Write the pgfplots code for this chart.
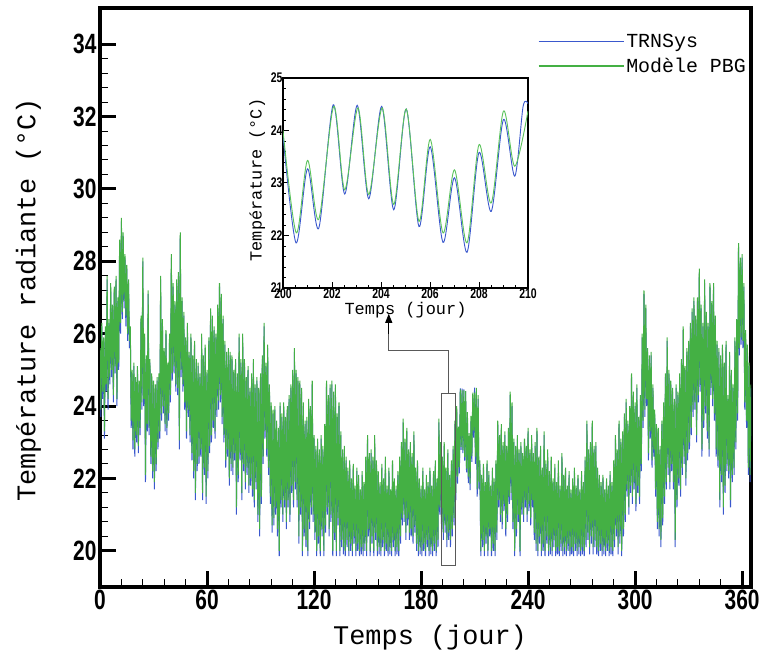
\documentclass[border=0pt]{standalone}
\usepackage{fontspec}
\usepackage{pgfplots}
\usepackage{pgfplotstable}
\pgfplotsset{compat=1.18}
\usetikzlibrary{arrows.meta}
\setmainfont{Liberation Sans}
\newfontfamily\nb[FakeStretch=0.75]{Liberation Sans}
\newfontfamily\mono{Liberation Mono}
\definecolor{trnblue}{RGB}{58,88,205}
\definecolor{pbggreen}{RGB}{68,176,68}
\definecolor{insgreen}{RGB}{90,195,90}

\pgfplotstableread{
t g b
0 25.6 25.5
0.5 23.9 23.7
1 26.3 26.2
1.5 24.4 24.2
2 25.9 25.8
2.5 23.3 23.1
3 26.2 26.1
3.5 24.6 24.4
4 27.6 27.5
4.5 24.2 23.9
5 26.4 26.3
5.5 24.8 24.6
6 27.4 27.3
6.5 25.0 24.8
7 26.8 26.7
7.5 24.3 24.1
8 27.3 27.2
8.5 25.1 24.9
9 27.6 27.5
9.5 24.2 24.0
10 27.0 26.9
10.5 25.2 25.0
11 28.6 28.5
11.5 26.3 26.0
12 29.2 29.1
12.5 26.6 26.4
13 28.8 28.7
13.5 26.9 26.7
14 28.2 28.1
14.5 26.5 26.2
15 27.9 27.8
15.5 26.0 25.8
16 27.5 27.4
16.5 25.8 25.6
17 26.2 26.1
17.5 23.6 23.4
18 25.0 24.9
18.5 23.05 22.8
19 25.2 25.1
19.5 22.8 22.6
20 24.8 24.7
20.5 23.2 23.0
21 25.1 25.0
21.5 22.9 22.7
22 24.7 24.6
22.5 23.4 23.2
23 26.5 26.4
23.5 24.1 23.9
24 28.1 28.0
24.5 24.2 24.0
25 26.0 25.9
25.5 22.1 21.9
26 25.4 25.3
26.5 23.5 23.3
27 27.2 27.1
27.5 23.4 23.2
28 25.3 25.2
28.5 22.6 22.4
29 24.9 24.8
29.5 22.2 22.0
30 24.7 24.6
30.5 21.9 21.7
31 24.6 24.5
31.5 22.4 22.2
32 24.8 24.7
32.5 23.0 22.8
33 24.9 24.8
33.5 23.3 23.1
34 27.6 27.5
34.5 23.8 23.6
35 26.4 26.3
35.5 24.0 23.8
36 25.6 25.5
36.5 23.5 23.3
37 26.1 26.0
37.5 23.4 23.2
38 25.2 25.1
38.5 23.8 23.6
39 26.0 25.9
39.5 24.3 24.1
40 28.2 28.1
40.5 24.9 24.7
41 27.4 27.3
41.5 25.1 24.9
42 26.9 26.8
42.5 24.6 24.4
43 27.5 27.4
43.5 24.5 24.3
44 27.7 27.6
44.5 23.05 22.8
45 28.8 28.7
45.5 25.0 24.8
46 27.0 26.9
46.5 24.6 24.4
47 26.6 26.5
47.5 24.1 23.9
48 25.9 25.8
48.5 23.3 23.1
49 26.3 26.2
49.5 23.9 23.7
50 25.5 25.4
50.5 23.2 23.0
51 26.0 25.9
51.5 22.7 22.5
52 25.4 25.3
52.5 22.2 22.0
53 25.8 25.7
53.5 21.6 21.4
54 25.3 25.2
54.5 22.4 22.2
55 25.2 25.1
55.5 22.6 22.4
56 24.9 24.8
56.5 22.8 22.6
57 26.0 25.9
57.5 21.6 21.4
58 25.4 25.3
58.5 22.3 22.1
59 25.7 25.6
59.5 21.5 21.3
60 25.0 24.9
60.5 22.2 22.0
61 25.9 25.8
61.5 22.9 22.7
62 26.7 26.6
62.5 23.2 23.0
63 26.5 26.4
63.5 23.6 23.4
64 26.2 26.1
64.5 23.3 23.1
65 26.0 25.9
65.5 23.9 23.7
66 26.8 26.7
66.5 24.15 23.9
67 27.4 27.3
67.5 24.3 24.1
68 27.1 27.0
68.5 23.7 23.5
69 26.5 26.4
69.5 23.2 23.0
70 25.8 25.7
70.5 22.5 22.3
71 25.5 25.4
71.5 22.8 22.6
72 25.6 25.5
72.5 22.0 21.8
73 25.5 25.4
73.5 22.4 22.2
74 25.4 25.3
74.5 22.3 22.1
75 25.0 24.9
75.5 22.7 22.5
76 25.3 25.2
76.5 21.2 21.0
77 24.9 24.8
77.5 22.1 21.9
78 26.0 25.9
78.5 22.7 22.5
79 25.3 25.2
79.5 21.6 21.4
80 26.0 25.9
80.5 22.4 22.2
81 25.3 25.2
81.5 21.9 21.7
82 24.8 24.7
82.5 22.3 22.1
83 25.1 25.0
83.5 21.8 21.6
84 24.5 24.4
84.5 22.0 21.8
85 24.9 24.8
85.5 21.7 21.5
86 25.3 25.2
86.5 21.4 21.2
87 24.6 24.5
87.5 21.9 21.7
88 24.8 24.7
88.5 21.0 20.8
89 24.5 24.4
89.5 20.6 20.4
90 24.9 24.8
90.5 21.5 21.3
91 25.4 25.3
91.5 22.6 22.4
92 26.3 26.2
92.5 23.3 23.1
93 25.2 25.1
93.5 22.8 22.6
94 25.7 25.6
94.5 22.3 22.1
95 24.6 24.5
95.5 21.5 21.3
96 24.1 24.0
96.5 20.7 20.5
97 23.9 23.8
97.5 20.9 20.7
98 24.0 23.9
98.5 21.2 21.0
99 23.6 23.5
99.5 20.6 20.4
100 23.4 23.3
100.5 20.0 19.85
101 24.1 24.0
101.5 21.4 21.2
102 23.8 23.7
102.5 21.0 20.8
103 24.1 24.0
103.5 21.4 21.2
104 23.7 23.6
104.5 20.8 20.6
105 24.0 23.9
105.5 21.4 21.2
106 24.3 24.2
106.5 21.0 20.8
107 24.6 24.5
107.5 21.8 21.6
108 25.0 24.9
108.5 21.4 21.2
109 25.6 25.5
109.5 21.9 21.7
110 25.0 24.9
110.5 21.4 21.2
111 24.8 24.7
111.5 20.4 20.2
112 24.7 24.6
112.5 21.2 21.0
113 24.5 24.4
113.5 20.0 19.85
114 24.1 24.0
114.5 20.6 20.4
115 23.6 23.5
115.5 20.3 20.1
116 23.7 23.6
116.5 20.0 19.85
117 24.2 24.1
117.5 20.8 20.6
118 24.0 23.9
118.5 21.2 21.0
119 24.7 24.6
119.5 21.0 20.8
120 23.2 23.1
120.5 20.5 20.3
121 22.9 22.8
121.5 20.0 19.85
122 23.1 23.0
122.5 20.4 20.2
123 22.8 22.7
123.5 20.0 19.85
124 23.2 23.1
124.5 20.6 20.4
125 22.9 22.8
125.5 20.0 19.85
126 23.5 23.4
126.5 20.7 20.5
127 24.7 24.6
127.5 21.2 21.0
128 24.3 24.2
128.5 20.6 20.4
129 24.6 24.5
129.5 21.0 20.8
130 24.7 24.6
130.5 20.0 19.85
131 24.4 24.3
131.5 20.5 20.3
132 24.6 24.5
132.5 20.0 19.85
133 23.8 23.7
133.5 20.9 20.7
134 24.1 24.0
134.5 20.0 19.85
135 23.3 23.2
135.5 20.3 20.1
136 22.8 22.7
136.5 20.1 19.9
137 22.9 22.8
137.5 20.0 19.85
138 22.6 22.5
138.5 20.3 20.1
139 22.3 22.2
139.5 20.0 19.85
140 22.5 22.4
140.5 20.2 20.0
141 22.0 21.9
141.5 20.0 19.85
142 22.4 22.3
142.5 20.4 20.2
143 21.8 21.7
143.5 20.0 19.85
144 22.3 22.2
144.5 20.2 20.0
145 22.1 22.0
145.5 20.0 19.85
146 21.7 21.6
146.5 20.1 19.9
147 22.2 22.1
147.5 20.0 19.85
148 21.9 21.8
148.5 20.2 20.0
149 22.6 22.5
149.5 20.0 19.85
150 23.2 23.1
150.5 20.6 20.4
151 22.7 22.6
151.5 20.0 19.85
152 22.8 22.7
152.5 20.4 20.2
153 22.6 22.5
153.5 20.0 19.85
154 23.2 23.1
154.5 20.5 20.3
155 22.5 22.4
155.5 20.0 19.85
156 22.2 22.1
156.5 20.1 19.9
157 21.9 21.8
157.5 20.0 19.85
158 22.4 22.3
158.5 20.3 20.1
159 22.0 21.9
159.5 20.0 19.85
160 22.6 22.5
160.5 20.2 20.0
161 21.8 21.7
161.5 20.0 19.85
162 22.3 22.2
162.5 20.1 19.9
163 21.7 21.6
163.5 20.0 19.85
164 22.5 22.4
164.5 20.3 20.1
165 22.0 21.9
165.5 20.0 19.85
166 21.8 21.7
166.5 20.1 19.9
167 22.2 22.1
167.5 20.0 19.85
168 22.6 22.5
168.5 20.4 20.2
169 23.0 22.9
169.5 20.9 20.7
170 23.65 23.55
170.5 21.0 20.8
171 23.1 23.0
171.5 20.5 20.3
172 23.4 23.3
172.5 20.9 20.7
173 22.8 22.7
173.5 20.5 20.3
174 23.0 22.9
174.5 20.6 20.4
175 22.7 22.6
175.5 20.4 20.2
176 23.3 23.2
176.5 20.7 20.5
177 22.3 22.2
177.5 20.2 20.0
178 22.5 22.4
178.5 20.0 19.85
179 22.0 21.9
179.5 20.1 19.9
180 21.8 21.7
180.5 20.0 19.85
181 22.3 22.2
181.5 20.2 20.0
182 21.7 21.6
182.5 20.0 19.85
183 22.1 22.0
183.5 20.3 20.1
184 21.9 21.8
184.5 20.0 19.85
185 22.3 22.2
185.5 20.1 19.9
186 21.8 21.7
186.5 20.0 19.85
187 22.2 22.1
187.5 20.2 20.0
188 22.5 22.4
188.5 20.0 19.85
189 22.0 21.9
189.5 20.3 20.1
190 23.65 23.55
190.5 21.2 21.0
191 23.0 22.9
191.5 20.8 20.6
192 22.6 22.5
192.5 20.5 20.3
193 23.0 22.9
193.5 20.7 20.5
194 22.3 22.2
194.5 20.3 20.1
195 22.8 22.7
195.5 20.5 20.3
196 22.1 22.0
196.5 20.3 20.1
197 22.5 22.4
197.5 20.6 20.4
198 22.9 22.8
198.5 20.9 20.7
199 23.6 23.5
199.5 21.6 21.4
200 24.0 23.9
200.5 22.05 21.86
201 23.43 23.27
201.5 22.31 22.14
202 24.46 24.49
202.5 22.87 22.79
203 24.43 24.48
203.5 22.78 22.70
204 24.43 24.46
204.5 22.59 22.49
205 24.41 24.41
205.5 22.27 22.17
206 23.83 23.69
206.5 22.05 21.87
207 23.25 23.10
207.5 21.86 21.68
208 23.73 23.58
208.5 22.62 22.46
209 24.37 24.21
209.5 23.32 23.13
210 24.37 24.51
210.5 22.6 22.4
211 24.5 24.4
211.5 21.7 21.5
212 24.3 24.2
212.5 21.9 21.7
213 22.5 22.4
213.5 20.0 19.85
214 22.1 22.0
214.5 20.3 20.1
215 22.4 22.3
215.5 20.0 19.85
216 21.9 21.8
216.5 20.4 20.2
217 22.5 22.4
217.5 20.0 19.85
218 22.2 22.1
218.5 20.6 20.4
219 21.8 21.7
219.5 20.0 19.85
220 22.3 22.2
220.5 20.2 20.0
221 22.0 21.9
221.5 20.0 19.85
222 22.5 22.4
222.5 20.5 20.3
223 23.6 23.5
223.5 21.4 21.2
224 23.2 23.1
224.5 21.0 20.8
225 23.5 23.4
225.5 20.8 20.6
226 23.0 22.9
226.5 21.3 21.1
227 23.3 23.2
227.5 20.6 20.4
228 22.9 22.8
228.5 21.0 20.8
229 23.4 23.3
229.5 21.5 21.3
230 24.4 24.3
230.5 21.6 21.4
231 24.1 24.0
231.5 20.8 20.6
232 23.1 23.0
232.5 20.0 19.85
233 22.9 22.8
233.5 20.6 20.4
234 23.2 23.1
234.5 21.0 20.8
235 22.8 22.7
235.5 20.0 19.85
236 23.0 22.9
236.5 21.2 21.0
237 22.7 22.6
237.5 21.0 20.8
238 23.1 23.0
238.5 21.4 21.2
239 22.9 22.8
239.5 21.0 20.8
240 23.4 23.3
240.5 21.3 21.1
241 22.8 22.7
241.5 20.9 20.7
242 23.2 23.1
242.5 21.4 21.2
243 22.7 22.6
243.5 20.5 20.3
244 23.0 22.9
244.5 20.2 20.0
245 23.4 23.3
245.5 20.0 19.85
246 22.6 22.5
246.5 20.4 20.2
247 22.9 22.8
247.5 20.0 19.85
248 22.3 22.2
248.5 20.2 20.0
249 23.3 23.2
249.5 20.0 19.85
250 22.5 22.4
250.5 20.4 20.2
251 22.8 22.7
251.5 20.0 19.85
252 22.2 22.1
252.5 20.1 19.9
253 22.6 22.5
253.5 20.0 19.85
254 22.0 21.9
254.5 20.3 20.1
255 22.4 22.3
255.5 20.0 19.85
256 21.9 21.8
256.5 20.1 19.9
257 22.5 22.4
257.5 20.0 19.85
258 21.8 21.7
258.5 20.2 20.0
259 22.7 22.6
259.5 20.0 19.85
260 22.1 22.0
260.5 20.1 19.9
261 22.3 22.2
261.5 20.0 19.85
262 21.8 21.7
262.5 20.2 20.0
263 22.2 22.1
263.5 20.0 19.85
264 21.7 21.6
264.5 20.1 19.9
265 22.0 21.9
265.5 20.0 19.85
266 22.3 22.2
266.5 20.2 20.0
267 21.8 21.7
267.5 20.0 19.85
268 22.1 22.0
268.5 20.1 19.9
269 21.7 21.6
269.5 20.0 19.85
270 22.2 22.1
270.5 20.1 19.9
271 21.9 21.8
271.5 20.0 19.85
272 22.6 22.5
272.5 20.3 20.1
273 23.6 23.5
273.5 20.5 20.3
274 22.8 22.7
274.5 20.1 19.9
275 23.0 22.9
275.5 20.4 20.2
276 23.6 23.5
276.5 20.1 19.9
277 22.9 22.8
277.5 20.3 20.1
278 23.0 22.9
278.5 20.1 19.9
279 22.3 22.2
279.5 20.0 19.85
280 22.1 22.0
280.5 20.2 20.0
281 21.9 21.8
281.5 20.0 19.85
282 22.1 22.0
282.5 20.1 19.9
283 21.7 21.6
283.5 20.0 19.85
284 22.0 21.9
284.5 20.2 20.0
285 21.8 21.7
285.5 20.0 19.85
286 22.2 22.1
286.5 20.1 19.9
287 21.9 21.8
287.5 20.0 19.85
288 22.5 22.4
288.5 20.3 20.1
289 23.2 23.1
289.5 20.6 20.4
290 22.8 22.7
290.5 20.1 19.9
291 23.6 23.5
291.5 20.4 20.2
292 23.1 23.0
292.5 20.0 19.85
293 23.3 23.2
293.5 20.6 20.4
294 23.8 23.7
294.5 21.0 20.8
295 24.2 24.1
295.5 21.7 21.5
296 23.6 23.5
296.5 21.2 21.0
297 24.0 23.9
297.5 21.8 21.6
298 24.9 24.8
298.5 21.5 21.3
299 24.4 24.3
299.5 21.9 21.7
300 24.1 24.0
300.5 21.3 21.1
301 24.6 24.5
301.5 21.8 21.6
302 23.7 23.6
302.5 21.5 21.3
303 24.3 24.2
303.5 22.4 22.2
304 26.0 25.9
304.5 23.6 23.4
305 27.2 27.1
305.5 23.9 23.7
306 26.8 26.7
306.5 24.2 24.0
307 25.6 25.5
307.5 22.7 22.5
308 25.4 25.3
308.5 23.3 23.1
309 25.5 25.4
309.5 22.5 22.3
310 24.6 24.5
310.5 22.8 22.6
311 23.9 23.8
311.5 21.7 21.5
312 23.5 23.4
312.5 20.8 20.6
313 23.4 23.3
313.5 20.6 20.4
314 22.9 22.8
314.5 20.3 20.1
315 23.6 23.5
315.5 20.9 20.7
316 24.1 24.0
316.5 21.5 21.3
317 24.9 24.8
317.5 21.9 21.7
318 25.9 25.8
318.5 22.3 22.1
319 25.0 24.9
319.5 21.9 21.7
320 24.7 24.6
320.5 22.4 22.2
321 24.5 24.4
321.5 21.9 21.7
322 24.2 24.1
322.5 20.3 20.1
323 24.6 24.5
323.5 21.4 21.2
324 24.4 24.3
324.5 22.0 21.8
325 24.9 24.8
325.5 21.7 21.5
326 25.3 25.2
326.5 22.3 22.1
327 26.2 26.1
327.5 22.6 22.4
328 25.1 25.0
328.5 22.0 21.8
329 25.6 25.5
329.5 22.7 22.5
330 25.8 25.7
330.5 23.0 22.8
331 26.3 26.2
331.5 23.4 23.2
332 26.7 26.6
332.5 23.9 23.7
333 27.0 26.9
333.5 24.1 23.9
334 26.5 26.4
334.5 23.2 23.0
335 27.0 26.9
335.5 24.3 24.1
336 27.8 27.7
336.5 24.6 24.4
337 26.8 26.7
337.5 22.8 22.6
338 26.3 26.2
338.5 23.6 23.4
339 27.5 27.4
339.5 24.0 23.8
340 26.6 26.5
340.5 23.3 23.1
341 26.3 26.2
341.5 22.8 22.6
342 27.4 27.3
342.5 24.5 24.3
343 26.9 26.8
343.5 24.2 24.0
344 27.4 27.3
344.5 23.8 23.6
345 26.5 26.4
345.5 22.8 22.6
346 25.8 25.7
346.5 22.5 22.3
347 25.6 25.5
347.5 21.4 21.2
348 25.4 25.3
348.5 22.1 21.9
349 25.7 25.6
349.5 21.2 21.0
350 25.2 25.1
350.5 21.8 21.6
351 25.8 25.7
351.5 22.4 22.2
352 24.3 24.2
352.5 22.2 22.0
353 25.5 25.4
353.5 21.4 21.2
354 25.0 24.9
354.5 22.1 21.9
355 24.6 24.5
355.5 22.3 22.1
356 25.9 25.8
356.5 23.0 22.8
357 26.4 26.3
357.5 23.8 23.6
358 28.5 28.4
358.5 25.6 25.4
359 28.1 28.0
359.5 25.9 25.7
360 28.2 28.1
360.5 25.8 25.6
361 27.4 27.3
361.5 24.1 23.9
362 26.1 26.0
362.5 23.6 23.4
363 25.7 25.6
363.5 22.3 22.1
364 25.2 25.1
364.5 22.1 21.9
365 24.6 24.5
}\maindata

\pgfplotstableread{
t v
200 24.0
200.54 22.05
201.0 23.43
201.46 22.31
202.07 24.46
202.52 22.87
203.06 24.43
203.5 22.78
204.05 24.43
204.52 22.59
205.03 24.41
205.55 22.27
206.01 23.83
206.53 22.05
207.0 23.25
207.51 21.86
208.0 23.73
208.5 22.62
209.0 24.37
209.46 23.32
210 24.37
}\insetpbg

\pgfplotstableread{
t v
200 23.9
200.53 21.86
201.0 23.27
201.46 22.14
202.05 24.49
202.52 22.79
203.03 24.48
203.5 22.70
204.03 24.46
204.52 22.49
205.03 24.41
205.55 22.17
206.01 23.69
206.53 21.87
207.0 23.10
207.51 21.68
208.0 23.58
208.5 22.46
209.0 24.21
209.46 23.13
209.8 24.46
210 24.51
}\insettrn

\begin{document}
\begin{tikzpicture}
\path[use as bounding box] (0,0) rectangle (767bp,664bp);
\begin{axis}[
  at={(100bp,77bp)}, anchor=south west,
  width=651bp, height=579bp, scale only axis,
  xmin=0, xmax=365, ymin=19, ymax=35,
  xtick={0,60,...,360}, ytick={20,22,...,34},
  minor x tick num=4, minor y tick num=4,
  tick align=inside, xtick pos=left, ytick pos=left,
  major tick length=16bp, minor tick length=8bp,
  major tick style={line width=3bp, black},
  minor tick style={line width=1bp, black},
  axis line style={line width=4bp, black},
  tick label style={font=\fontsize{28}{30}\selectfont\nb\bfseries},
  /pgf/number format/assume math mode=true,
  xlabel={Temps (jour)}, ylabel={Température radiante (°C)},
  label style={font=\fontsize{27}{30}\selectfont\mono},
  xlabel style={at={(axis description cs:0.507,-0.088)}, anchor=center},
  ylabel style={at={(axis description cs:-0.11,0.496)}, anchor=center},
  legend style={draw=none, fill=none, at={(rel axis cs:1.0,0.962)}, anchor=north east,
    font=\fontsize{20}{22}\selectfont\mono, row sep=5bp},
  legend cell align=left,
  legend image code/.code={\draw[#1, line width=1.4bp] (-12bp,0bp) -- (73bp,0bp);},
]
\addplot[trnblue, line width=1bp] table[x=t, y=b] {\maindata};
\addlegendentry{TRNSys}
\addplot[pbggreen, line width=1bp] table[x=t, y=g] {\maindata};
\addlegendentry{Modèle PBG}
\draw[black!65, line width=1bp] (axis cs:191.5,19.6) rectangle (axis cs:199.3,24.35);
\draw[black!65, line width=1bp] (axis cs:195.4,24.35) -- (axis cs:195.4,25.53) -- (axis cs:161.9,25.53) -- (axis cs:161.9,26.2);
\draw[black, line width=0.8bp, -{Triangle[length=9bp,width=7bp]}] (axis cs:161.9,26.0) -- (axis cs:161.9,26.55);
\end{axis}
\begin{axis}[
  at={(283bp,376bp)}, anchor=south west,
  width=245bp, height=210bp, scale only axis,
  axis background/.style={fill=white},
  xmin=200, xmax=210, ymin=21, ymax=25,
  xtick={200,202,...,210}, ytick={21,22,...,25},
  minor x tick num=3, minor y tick num=4,
  tick align=inside, xtick pos=left, ytick pos=left,
  major tick length=6bp, minor tick length=3bp,
  major tick style={line width=1bp, black},
  minor tick style={line width=0.6bp, black},
  axis line style={line width=1.2bp, black},
  tick label style={font=\fontsize{14}{15}\selectfont\nb\bfseries},
  xticklabel style={yshift=3bp},
  yticklabel style={xshift=3bp},
  /pgf/number format/assume math mode=true,
  xlabel={Temps (jour)}, ylabel={Température (°C)},
  label style={font=\fontsize{17}{19}\selectfont\mono},
  xlabel style={at={(axis description cs:0.5,-0.105)}, anchor=center},
  ylabel style={at={(axis description cs:-0.105,0.514)}, anchor=center},
]
\addplot[trnblue, line width=0.9bp, smooth] table[x=t, y=v] {\insettrn};
\addplot[insgreen, line width=0.9bp, smooth] table[x=t, y=v] {\insetpbg};
\end{axis}
\end{tikzpicture}
\end{document}
